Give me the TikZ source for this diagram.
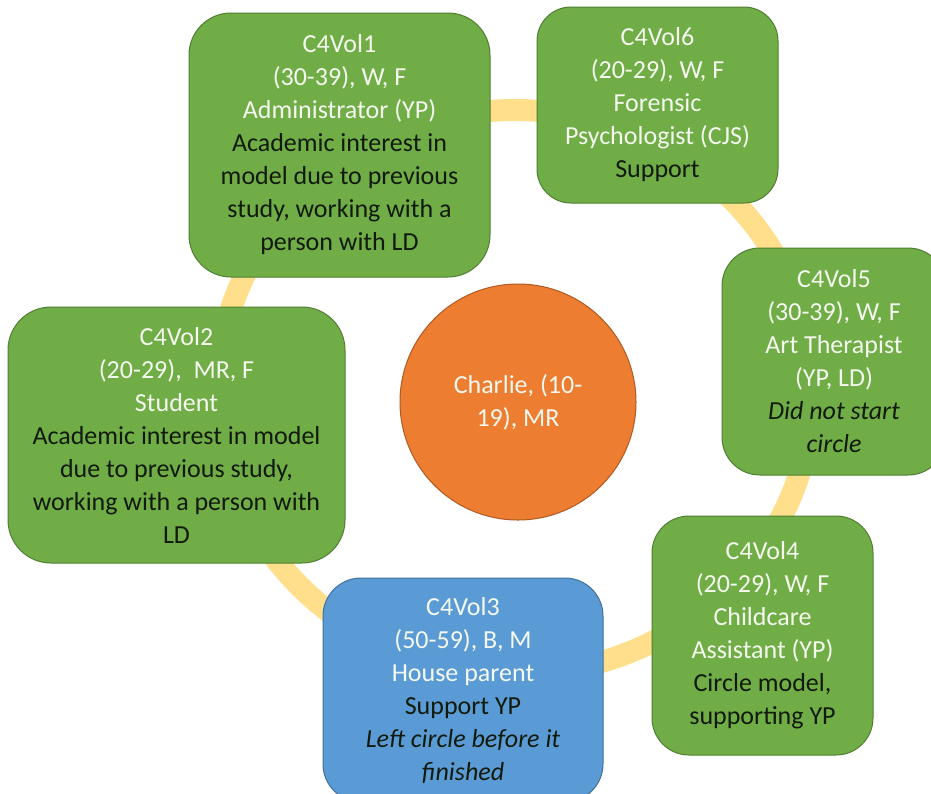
\documentclass[tikz,border=0pt]{standalone}
\usepackage{fontspec}
\setmainfont{Carlito}
\definecolor{gfill}{HTML}{70AD47}
\definecolor{gline}{HTML}{507E32}
\definecolor{bfill}{HTML}{5B9BD5}
\definecolor{bline}{HTML}{41719C}
\definecolor{ofill}{HTML}{ED7D31}
\definecolor{oline}{HTML}{AE5A21}
\definecolor{ringc}{HTML}{FFDF8C}
\definecolor{lighttxt}{HTML}{F4F8EE}
\definecolor{darktxt}{HTML}{111A0C}
\newcommand\ltx[1]{\textcolor{lighttxt}{#1}}
\begin{document}
\begin{tikzpicture}[x=1pt,y=-1pt,
  box/.style={draw=gline, fill=gfill, line width=1pt, align=center, inner sep=0pt,
    font=\fontsize{26}{33}\selectfont, text=darktxt},
  bluebox/.style={box, draw=bline, fill=bfill},
  hub/.style={circle, draw=oline, fill=ofill, line width=1pt, align=center, inner sep=0pt,
    font=\fontsize{26}{33}\selectfont, text=lighttxt, minimum size=236pt}]
\useasboundingbox (0,0) rectangle (931,793);
\fill[white] (0,0) rectangle (931,793);
\draw[ringc, line width=22pt] (515,392) ellipse [x radius=297pt, y radius=282pt];

\node[hub] (charlie) at (518,402) {Charlie, (10-\\19), MR};

\node[box, minimum width=301pt, minimum height=264pt, rounded corners=42pt] (v1) at (339.5,145)
  {\ltx{C4Vol1}\\ \ltx{(30-39), W, F}\\ \ltx{Administrator (YP)}\\ Academic interest in\\ model due to previous\\ study, working with a\\ person with LD};

\node[box, minimum width=241pt, minimum height=196pt, rounded corners=34pt] (v6) at (657.5,105)
  {\ltx{C4Vol6}\\ \ltx{(20-29), W, F}\\ \ltx{Forensic}\\ \ltx{Psychologist (CJS)}\\ Support};

\node[box, minimum width=224pt, minimum height=227pt, rounded corners=38pt] (v5) at (834,361.5)
  {\ltx{C4Vol5}\\ \ltx{(30-39), W, F}\\ \ltx{Art Therapist}\\ \ltx{(YP, LD)}\\ \textit{Did not start}\\ \textit{circle}};

\node[box, minimum width=221pt, minimum height=239pt, rounded corners=37pt] (v4) at (762.5,635.5)
  {\ltx{C4Vol4}\\ \ltx{(20-29), W, F}\\ \ltx{Childcare}\\ \ltx{Assistant (YP)}\\ Circle model,\\ supporting YP};

\node[bluebox, minimum width=280pt, minimum height=224pt, rounded corners=38pt] (v3) at (463,690)
  {\ltx{C4Vol3}\\ \ltx{(50-59), B, M}\\ \ltx{House parent}\\ Support YP\\ \textit{Left circle before it}\\ \textit{finished}};

\node[box, minimum width=337pt, minimum height=256pt, rounded corners=43pt] (v2) at (176.5,435)
  {\ltx{C4Vol2}\\ \ltx{(20-29),~~MR, F}\\ \ltx{Student}\\ Academic interest in model\\ due to previous study,\\ working with a person with\\ LD};
\end{tikzpicture}
\end{document}
